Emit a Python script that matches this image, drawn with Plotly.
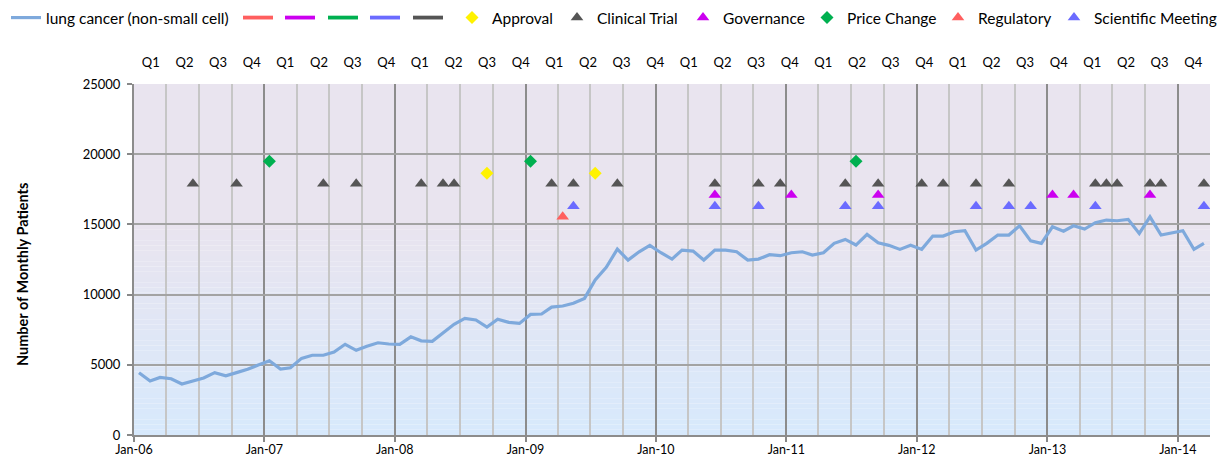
import pandas as pd
import plotly.graph_objects as go

# ---------------- data ----------------
months = pd.date_range("2006-01-01", periods=99, freq="MS") + pd.Timedelta(days=14)

patients = [
    4440, 3850, 4100, 4010, 3630, 3870, 4060, 4440, 4220, 4440, 4680, 4980,
    5290, 4700, 4790, 5460, 5680, 5680, 5910, 6460, 6030, 6320, 6570, 6480,
    6460, 6990, 6710, 6670, 7280, 7880, 8310, 8190, 7690, 8240, 8020, 7950,
    8590, 8620, 9110, 9190, 9380, 9730, 11040, 11940, 13240, 12460, 13050, 13510,
    12980, 12530, 13170, 13100, 12460, 13170, 13170, 13050, 12460, 12530, 12840, 12770,
    12980, 13050, 12820, 12980, 13650, 13930, 13530, 14290, 13690, 13510, 13220, 13510,
    13220, 14170, 14170, 14480, 14550, 13170, 13650, 14240, 14240, 14900, 13830, 13650,
    14830, 14520, 14900, 14670, 15120, 15310, 15260, 15360, 14360, 15540, 14240, 14400,
    14550, 13220, 13650,
]

approval_dates = ["2008-09-15", "2009-07-15"]
clinical_dates = [
    "2006-06-15", "2006-10-15", "2007-06-15", "2007-09-15", "2008-03-15", "2008-05-15",
    "2008-06-15", "2009-03-15", "2009-05-15", "2009-09-15", "2010-06-15", "2010-10-15",
    "2010-12-15", "2011-06-15", "2011-09-15", "2012-01-15", "2012-03-15", "2012-06-15",
    "2012-09-15", "2013-05-15", "2013-06-15", "2013-07-15", "2013-10-15", "2013-11-15",
    "2014-03-15",
]
governance_dates = ["2010-06-15", "2011-01-15", "2011-09-15", "2013-01-15", "2013-03-15", "2013-10-15"]
price_dates = ["2007-01-15", "2009-01-15", "2011-07-15"]
regulatory_dates = ["2009-04-15"]
scientific_dates = [
    "2009-05-15", "2010-06-15", "2010-10-15", "2011-06-15", "2011-09-15", "2012-06-15",
    "2012-09-15", "2012-11-15", "2013-05-15", "2014-03-15",
]

level_price = 19500
level_approval = 18650
level_clinical = 17900
level_governance = 17100
level_scientific = 16300
level_regulatory = 15550

quarter_labels = ["Q1", "Q2", "Q3", "Q4"] * 8

year_ticks = [f"{y}-01-01" for y in range(2006, 2015)]

# ---------------- styling ----------------
FONT = "Lato"
LINE_BLUE = "#7EA9DC"
RED = "#FF5F5F"
MAGENTA = "#CC00F0"
GREEN = "#00B050"
PERI = "#6B6BFF"
DARK = "#555555"
YELLOW = "#FFF200"

W, H = 1220, 464
ML, MR, MT, MB = 134, 10, 84, 29
PW = W - ML - MR
PH = H - MT - MB

# left edge (pixels) of each legend entry
legend_left_px = [6, 238, 280, 323, 365, 408, 452, 557, 683, 807, 938, 1054]

fig = go.Figure()

def lg(i):
    return "legend" if i == 0 else f"legend{i + 1}"

fig.add_trace(go.Scatter(
    x=months, y=patients, mode="lines", name="lung cancer (non-small cell)",
    line=dict(color=LINE_BLUE, width=3.2), hoverinfo="x+y", legend=lg(0),
))

for j, c in enumerate([RED, MAGENTA, GREEN, PERI, DARK]):
    fig.add_trace(go.Scatter(
        x=[None], y=[None], mode="lines", name=" ",
        line=dict(color=c, width=3.8), legend=lg(j + 1),
    ))

def events(k, dates, level, name, symbol, color, size):
    fig.add_trace(go.Scatter(
        x=pd.to_datetime(dates), y=[level] * len(dates), mode="markers", name=name,
        marker=dict(symbol=symbol, color=color, size=size, line=dict(width=0)),
        legend=lg(k),
    ))

events(6, approval_dates, level_approval, "Approval", "diamond", YELLOW, 10)
events(7, clinical_dates, level_clinical, "Clinical Trial", "triangle-up", DARK, 11)
events(8, governance_dates, level_governance, "Governance", "triangle-up", MAGENTA, 11)
events(9, price_dates, level_price, "Price Change", "diamond", GREEN, 10)
events(10, regulatory_dates, level_regulatory, "Regulatory", "triangle-up", RED, 11)
events(11, scientific_dates, level_scientific, "Scientific Meeting", "triangle-up", PERI, 11)

# invisible trace to carry the top quarter axis
fig.add_trace(go.Scatter(
    x=list(range(len(quarter_labels))), y=[None] * len(quarter_labels),
    xaxis="x2", mode="markers", showlegend=False, hoverinfo="skip",
))

# background gradient (lavender top -> light blue bottom)
top = (233, 228, 239)
bot = (215, 233, 252)
n = 40
start = 0.6
for i in range(n):
    y0 = start * i / n
    y1 = start * (i + 1) / n
    t = (i + 0.5) / n
    col = tuple(round(bot[k] + (top[k] - bot[k]) * t) for k in range(3))
    fig.add_shape(type="rect", xref="paper", yref="paper", x0=0, x1=1, y0=y0, y1=y1,
                  fillcolor=f"rgb{col}", line=dict(width=0), layer="below")
fig.add_shape(type="rect", xref="paper", yref="paper", x0=0, x1=1, y0=start, y1=1,
              fillcolor=f"rgb{top}", line=dict(width=0), layer="below")

fig.add_annotation(
    text="<b>Number of Monthly Patients</b>", textangle=-90,
    xref="paper", yref="paper", x=(22 - ML) / PW, y=(MT + PH - 275) / PH,
    xanchor="center", yanchor="middle", showarrow=False,
    font=dict(family=FONT, size=14.5, color="#000000"),
)

legends = {}
for i, px in enumerate(legend_left_px):
    legends[lg(i)] = dict(
        orientation="h", x=(px - ML) / PW, xanchor="left",
        y=1 + (MT - 18) / PH, yanchor="middle",
        font=dict(family=FONT, size=15.5, color="#000000"), itemwidth=30,
        bgcolor="rgba(0,0,0,0)", borderwidth=0,
    )

fig.update_layout(
    width=W, height=H,
    margin=dict(l=ML, r=MR, t=MT, b=MB, autoexpand=False),
    paper_bgcolor="#FFFFFF", plot_bgcolor="rgba(0,0,0,0)",
    font=dict(family=FONT, size=13, color="#000000"),
    showlegend=True,
    xaxis=dict(
        type="date", range=["2006-01-01", "2014-04-01"],
        tickvals=year_ticks, tickformat="%b-%y",
        ticks="outside", ticklen=5, tickcolor="#888888", tickwidth=1.5,
        showgrid=True, gridcolor="#8C8C8C", gridwidth=2,
        minor=dict(dtick="M3", tick0="2006-01-01", showgrid=True, gridcolor="#C6C6C6", gridwidth=1.5, ticks=""),
        showline=True, linecolor="#8C8C8C", linewidth=2,
        zeroline=False, tickfont=dict(size=12.5), ticklabelstandoff=-3,
    ),
    xaxis2=dict(
        overlaying="x", side="top", range=[-0.5, len(quarter_labels) - 0.5],
        tickvals=list(range(len(quarter_labels))), ticktext=quarter_labels,
        showgrid=False, zeroline=False, ticks="", showline=False,
        tickfont=dict(size=13), ticklabelstandoff=13,
    ),
    yaxis=dict(
        range=[0, 25000], dtick=5000, tickformat="d", showgrid=True, gridcolor="#A3A3A3", gridwidth=1.5,
        ticks="outside", ticklen=5, tickcolor="#888888", tickwidth=1.5,
        showline=True, linecolor="#8C8C8C", linewidth=2, zeroline=False,
        tickfont=dict(size=13), ticklabelstandoff=4,
    ),
    **legends,
)

fig.write_html(
    "out.html",
    config={"displayModeBar": False},
    post_script="document.body.style.margin='0px';",
)
